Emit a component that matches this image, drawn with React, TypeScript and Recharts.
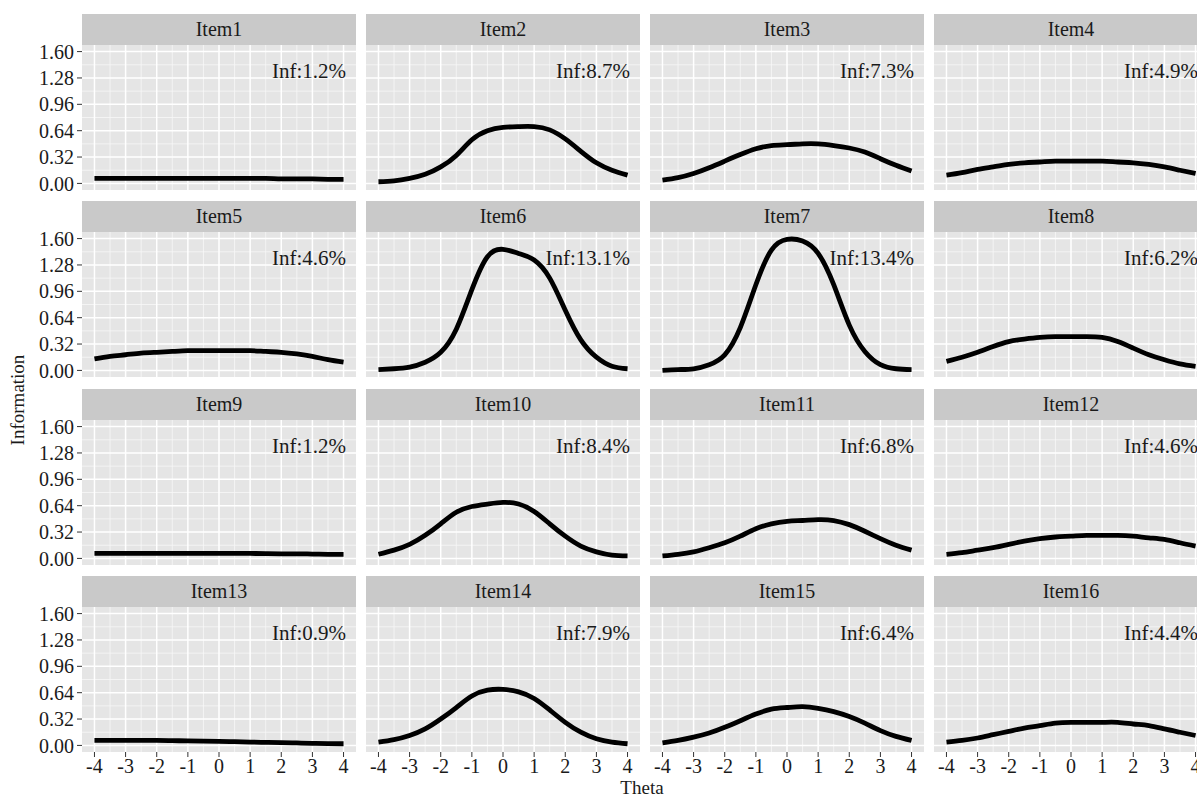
import { CartesianGrid, Line, LineChart, XAxis, YAxis } from "recharts";

const FONT = "'Liberation Serif', 'Times New Roman', serif";

const theta = [-4, -3.5, -3, -2.5, -2, -1.5, -1, -0.5, 0, 0.5, 1, 1.5, 2, 2.5, 3, 3.5, 4];

const item1 = [0.06, 0.06, 0.06, 0.06, 0.06, 0.06, 0.06, 0.06, 0.06, 0.06, 0.06, 0.06, 0.055, 0.055, 0.055, 0.05, 0.05];
const item2 = [0.02, 0.03, 0.06, 0.11, 0.2, 0.34, 0.53, 0.64, 0.68, 0.69, 0.69, 0.65, 0.54, 0.39, 0.25, 0.16, 0.1];
const item3 = [0.04, 0.07, 0.12, 0.19, 0.27, 0.35, 0.42, 0.46, 0.47, 0.48, 0.48, 0.46, 0.43, 0.38, 0.3, 0.22, 0.15];
const item4 = [0.1, 0.13, 0.17, 0.2, 0.23, 0.25, 0.26, 0.27, 0.27, 0.27, 0.27, 0.26, 0.25, 0.23, 0.2, 0.16, 0.12];
const item5 = [0.14, 0.17, 0.19, 0.21, 0.22, 0.23, 0.24, 0.24, 0.24, 0.24, 0.24, 0.23, 0.22, 0.2, 0.17, 0.13, 0.1];
const item6 = [0.01, 0.02, 0.04, 0.1, 0.22, 0.5, 0.98, 1.38, 1.47, 1.42, 1.34, 1.12, 0.73, 0.37, 0.16, 0.05, 0.02];
const item7 = [0.0, 0.01, 0.02, 0.07, 0.19, 0.52, 1.04, 1.46, 1.59, 1.57, 1.42, 1.04, 0.55, 0.23, 0.07, 0.02, 0.01];
const item8 = [0.11, 0.16, 0.22, 0.29, 0.35, 0.38, 0.4, 0.41, 0.41, 0.41, 0.4, 0.35, 0.27, 0.19, 0.13, 0.08, 0.05];
const item9 = [0.06, 0.06, 0.06, 0.06, 0.06, 0.06, 0.06, 0.06, 0.06, 0.06, 0.06, 0.058, 0.056, 0.055, 0.053, 0.05, 0.05];
const item10 = [0.05, 0.1, 0.17, 0.28, 0.42, 0.56, 0.63, 0.66, 0.68, 0.66, 0.57, 0.42, 0.27, 0.15, 0.08, 0.04, 0.03];
const item11 = [0.03, 0.05, 0.08, 0.13, 0.19, 0.27, 0.36, 0.42, 0.45, 0.46, 0.47, 0.46, 0.41, 0.33, 0.24, 0.16, 0.1];
const item12 = [0.05, 0.07, 0.1, 0.13, 0.17, 0.21, 0.24, 0.26, 0.27, 0.28, 0.28, 0.28, 0.27, 0.25, 0.23, 0.19, 0.15];
const item13 = [0.06, 0.06, 0.06, 0.06, 0.06, 0.058, 0.055, 0.052, 0.05, 0.045, 0.04, 0.037, 0.035, 0.03, 0.025, 0.022, 0.02];
const item14 = [0.04, 0.07, 0.12, 0.2, 0.32, 0.46, 0.6, 0.67, 0.68, 0.65, 0.57, 0.43, 0.28, 0.16, 0.08, 0.04, 0.02];
const item15 = [0.03, 0.06, 0.1, 0.15, 0.22, 0.3, 0.38, 0.44, 0.46, 0.47, 0.45, 0.41, 0.35, 0.27, 0.18, 0.11, 0.06];
const item16 = [0.04, 0.06, 0.09, 0.13, 0.17, 0.21, 0.24, 0.27, 0.28, 0.28, 0.28, 0.28, 0.26, 0.24, 0.2, 0.16, 0.12];

const items = [item1, item2, item3, item4, item5, item6, item7, item8, item9, item10, item11, item12, item13, item14, item15, item16];
const itemNames = items.map((_, i) => `Item${i + 1}`);
const infShares = ["1.2", "8.7", "7.3", "4.9", "4.6", "13.1", "13.4", "6.2", "1.2", "8.4", "6.8", "4.6", "0.9", "7.9", "6.4", "4.4"];

const yTicks = [0, 0.32, 0.64, 0.96, 1.28, 1.6];
const yMinor = [0.16, 0.48, 0.8, 1.12, 1.44];
const xTicks = [-4, -3, -2, -1, 0, 1, 2, 3, 4];
const xMinor = [-3.5, -2.5, -1.5, -0.5, 0.5, 1.5, 2.5, 3.5];

// panel geometry (ggplot facet_wrap look)
const PW = 274;
const PH = 145;
const SH = 31;
const AXW = 82;
const PAD = 12; // room so the top/bottom tick labels are not clipped by the svg
const colX = (c: number) => AXW + 284 * c;
const rowY = (r: number) => 45 + 187.33 * r;

function Panel({ idx }: { idx: number }) {
  const r = Math.floor(idx / 4);
  const c = idx % 4;
  const data = theta.map((t, i) => ({ theta: t, info: items[idx][i] }));
  const first = c === 0;
  const last = r === 3;
  const left = first ? 0 : colX(c);
  const width = first ? AXW + PW : PW;
  const bottomPad = last ? 0 : PAD;
  const height = PAD + PH + (last ? 40 : bottomPad);
  const tickStyle = { fontSize: 20, fill: "#1a1a1a", fontFamily: FONT };

  return (
    <>
      <div
        style={{
          position: "absolute",
          left: colX(c),
          top: rowY(r) - SH,
          width: PW,
          height: SH,
          background: "#C9C9C9",
          fontFamily: FONT,
          fontSize: 20,
          lineHeight: `${SH}px`,
          textAlign: "center",
          color: "#1a1a1a",
        }}
      >
        {itemNames[idx]}
      </div>
      <div
        style={{
          position: "absolute",
          left: colX(c),
          top: rowY(r),
          width: PW,
          height: PH,
          background: "#E5E5E5",
        }}
      />
      <div style={{ position: "absolute", left, top: rowY(r) - PAD }}>
        <LineChart
          width={width}
          height={height}
          data={data}
          margin={{ top: PAD, right: 0, bottom: bottomPad, left: 0 }}
        >
          <CartesianGrid stroke="#F7F7F7" strokeWidth={0.8} horizontalValues={yMinor} verticalValues={xMinor} />
          <CartesianGrid stroke="#FFFFFF" strokeWidth={1.5} horizontalValues={yTicks} verticalValues={xTicks} />
          <XAxis
            dataKey="theta"
            type="number"
            domain={[-4.4, 4.4]}
            ticks={xTicks}
            interval={0}
            allowDataOverflow
            hide={!last}
            height={40}
            tickSize={5}
            tickMargin={2}
            axisLine={false}
            tickLine={{ stroke: "#333" }}
            tick={tickStyle}
          />
          <YAxis
            type="number"
            domain={[-0.08, 1.68]}
            ticks={yTicks}
            interval={0}
            allowDataOverflow
            hide={!first}
            width={AXW}
            tickSize={5}
            tickMargin={3}
            axisLine={false}
            tickLine={{ stroke: "#333" }}
            tick={tickStyle}
            tickFormatter={(v: number) => v.toFixed(2)}
          />
          <Line
            type="natural"
            dataKey="info"
            stroke="#000"
            strokeWidth={4.8}
            dot={false}
            isAnimationActive={false}
          />
        </LineChart>
      </div>
      <div
        style={{
          position: "absolute",
          left: colX(c),
          top: rowY(r) + 13,
          width: PW - 10,
          textAlign: "right",
          fontFamily: FONT,
          fontSize: 21,
          lineHeight: "26px",
          color: "#1a1a1a",
        }}
      >
        {`Inf:${infShares[idx]}%`}
      </div>
    </>
  );
}

export default function App() {
  return (
    <div
      style={{
        position: "fixed",
        left: 0,
        top: 0,
        width: 1197,
        height: 797,
        overflow: "hidden",
        background: "#fff",
      }}
    >
      {items.map((_, i) => (
        <Panel key={i} idx={i} />
      ))}
      <div
        style={{
          position: "absolute",
          left: 18,
          top: 400,
          transform: "translate(-50%, -50%) rotate(-90deg)",
          fontFamily: FONT,
          fontSize: 19,
          color: "#1a1a1a",
          whiteSpace: "nowrap",
        }}
      >
        Information
      </div>
      <div
        style={{
          position: "absolute",
          left: 642,
          top: 788,
          transform: "translate(-50%, -50%)",
          fontFamily: FONT,
          fontSize: 19,
          color: "#1a1a1a",
        }}
      >
        Theta
      </div>
    </div>
  );
}
